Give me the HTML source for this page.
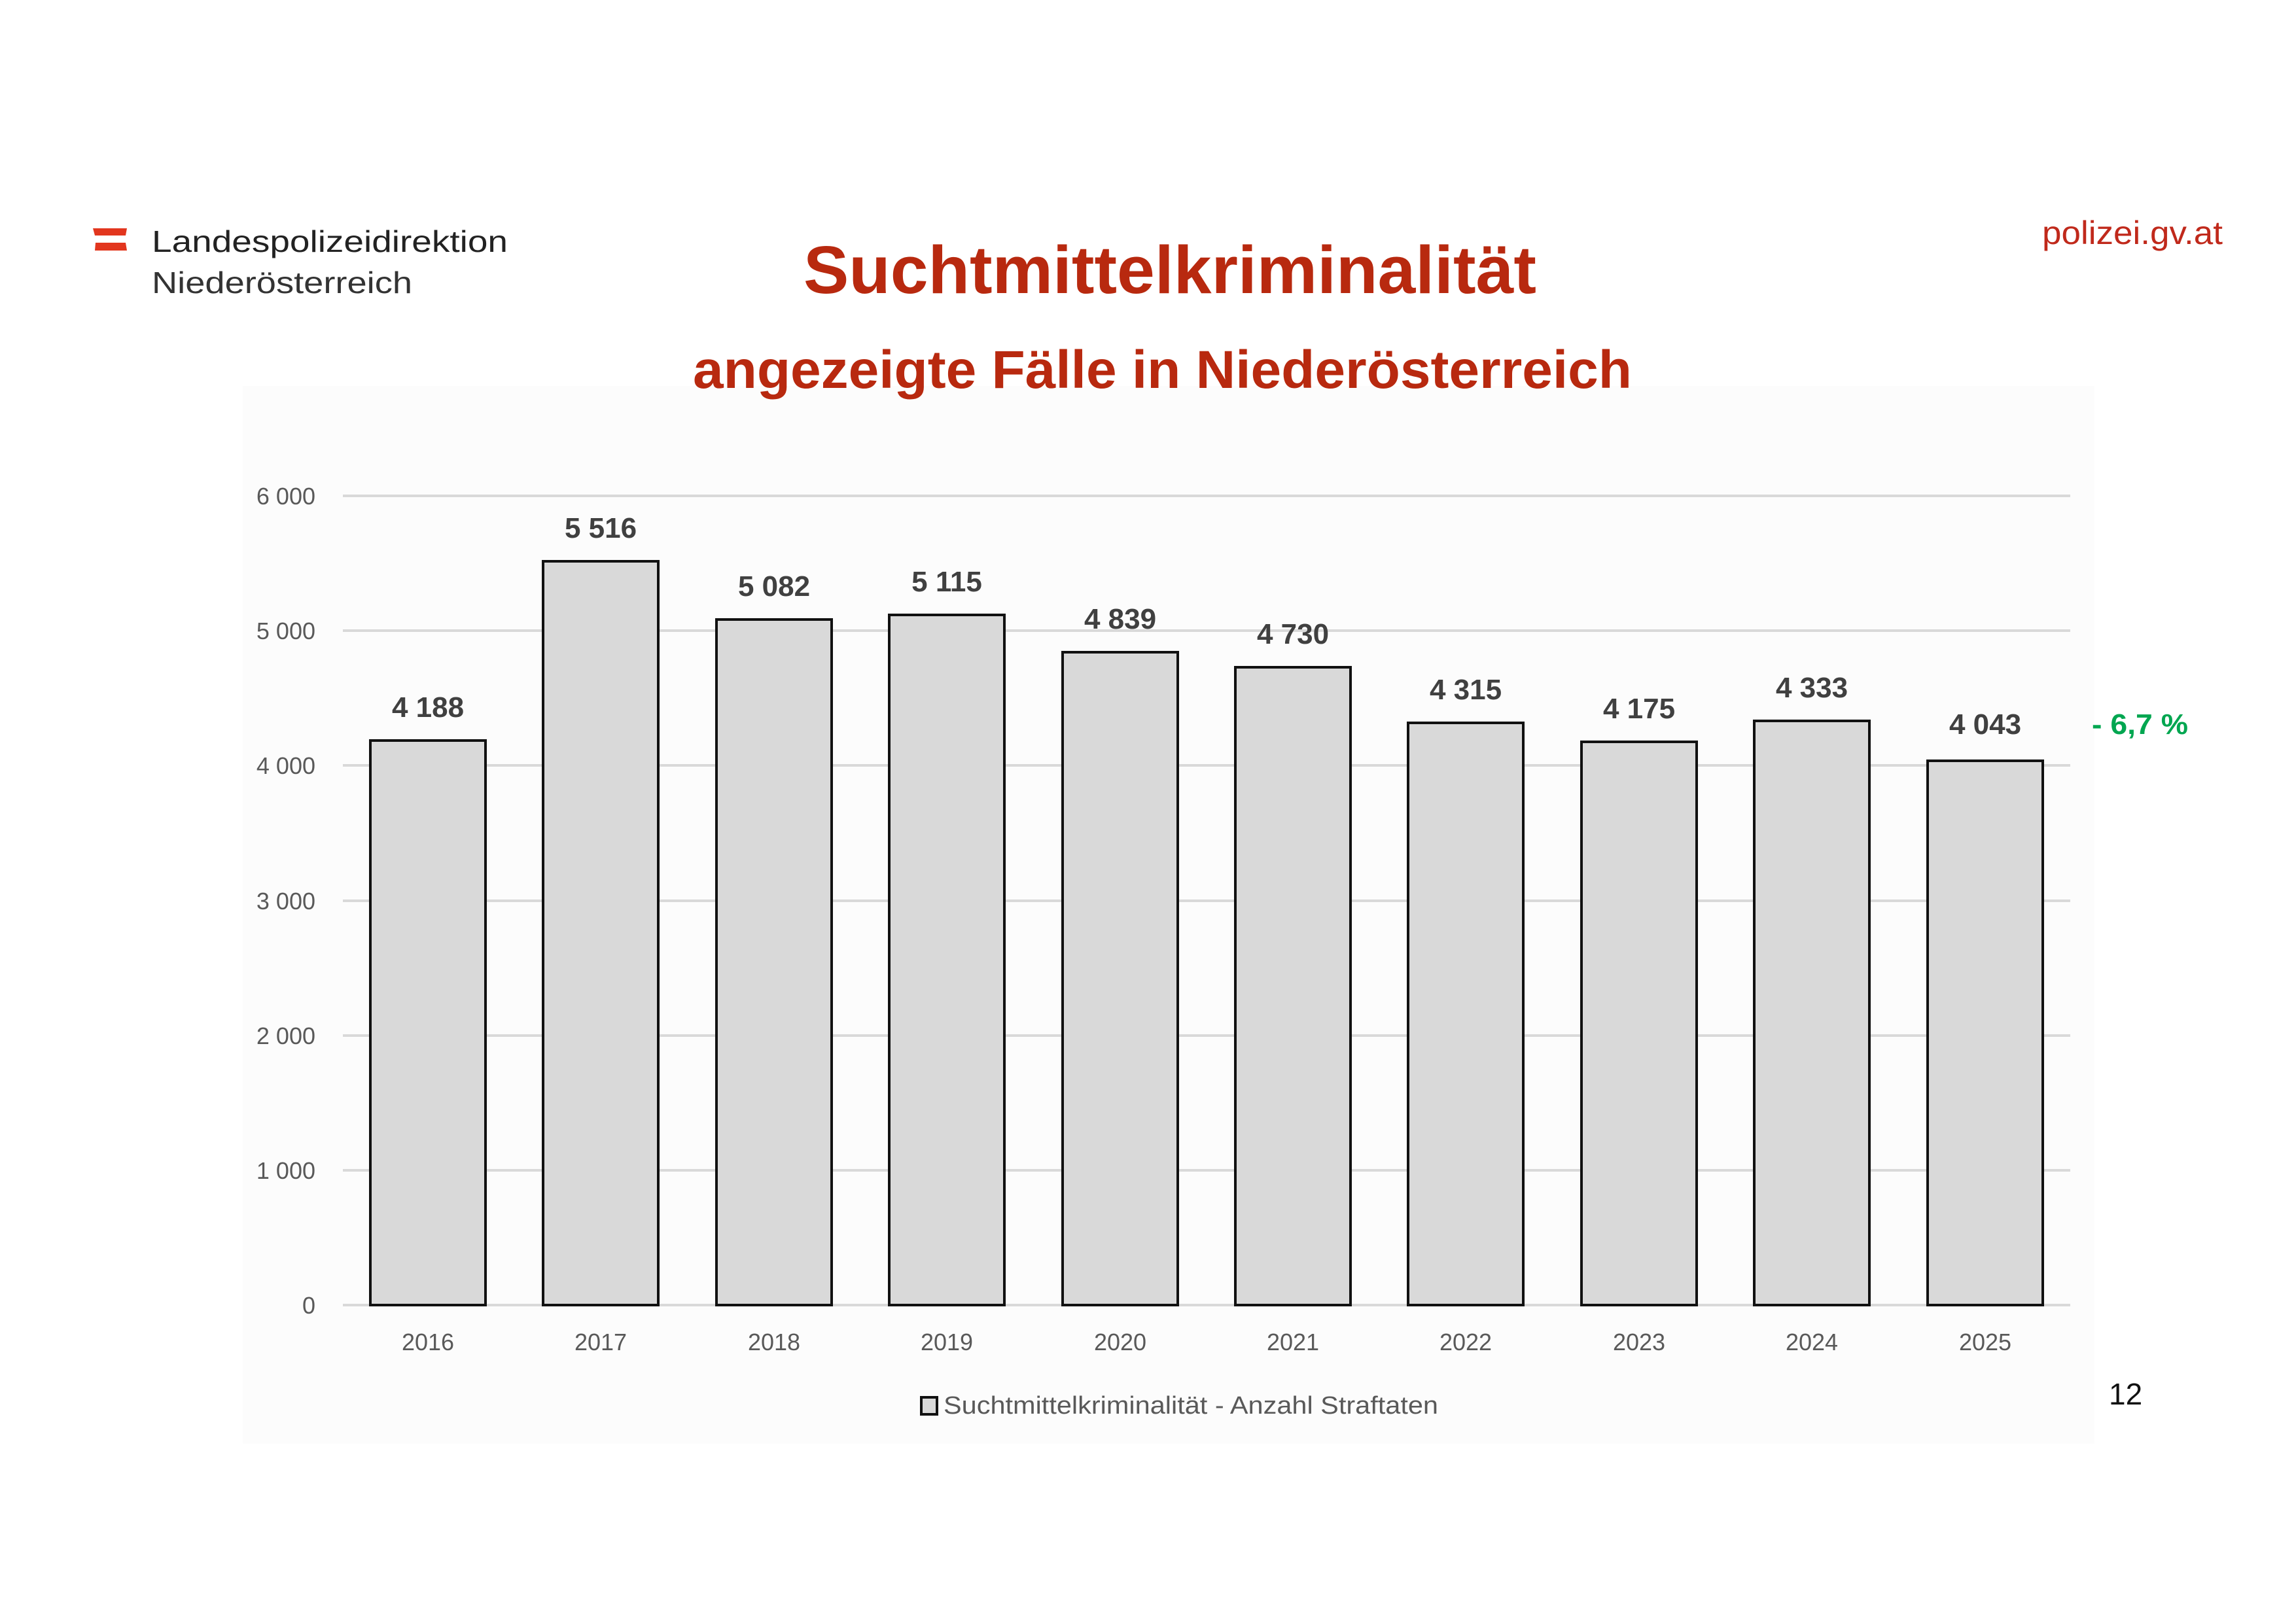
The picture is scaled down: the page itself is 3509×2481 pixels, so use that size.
<!DOCTYPE html>
<html><head><meta charset="utf-8"><style>
html,body{margin:0;padding:0;background:#fff;}
svg{display:block;}
</style></head><body>
<svg width="3509" height="2481" viewBox="0 0 3509 2481" xmlns="http://www.w3.org/2000/svg" font-family="Liberation Sans, sans-serif">
<rect width="3509" height="2481" fill="#fff"/>
<rect x="371" y="590" width="2830" height="1617" fill="#fcfcfc"/>
<polygon points="142,349 194,349 192,360 145,360" fill="#e2361e"/>
<polygon points="146,371 192,371 194,383 145,383" fill="#e2361e"/>
<text x="232" y="385" font-size="46" fill="#222" textLength="544" lengthAdjust="spacingAndGlyphs">Landespolizeidirektion</text>
<text x="232" y="448" font-size="46" fill="#333" textLength="398" lengthAdjust="spacingAndGlyphs">Niederösterreich</text>
<text x="3121" y="373" font-size="50" fill="#c0291b" textLength="276" lengthAdjust="spacingAndGlyphs">polizei.gv.at</text>
<text x="1228" y="448" font-size="103" font-weight="bold" fill="#b8290f" textLength="1120" lengthAdjust="spacingAndGlyphs">Suchtmittelkriminalität</text>
<text x="1059" y="593" font-size="82" font-weight="bold" fill="#b8290f" textLength="1435" lengthAdjust="spacingAndGlyphs">angezeigte Fälle in Niederösterreich</text>
<g stroke="#d9d9d9" stroke-width="4">
<line x1="524" y1="758" x2="3164" y2="758"/>
<line x1="524" y1="964" x2="3164" y2="964"/>
<line x1="524" y1="1170" x2="3164" y2="1170"/>
<line x1="524" y1="1377" x2="3164" y2="1377"/>
<line x1="524" y1="1583" x2="3164" y2="1583"/>
<line x1="524" y1="1789" x2="3164" y2="1789"/>
<line x1="524" y1="1995" x2="3164" y2="1995"/>
</g>
<g font-size="36" fill="#595959" text-anchor="end">
<text x="482" y="771">6 000</text>
<text x="482" y="977">5 000</text>
<text x="482" y="1183">4 000</text>
<text x="482" y="1390">3 000</text>
<text x="482" y="1596">2 000</text>
<text x="482" y="1802">1 000</text>
<text x="482" y="2008">0</text>
</g>
<g fill="#d9d9d9" stroke="#111" stroke-width="4">
<rect x="566" y="1132" width="176" height="863"/>
<rect x="830" y="858" width="176" height="1137"/>
<rect x="1095" y="947" width="176" height="1048"/>
<rect x="1359" y="940" width="176" height="1055"/>
<rect x="1624" y="997" width="176" height="998"/>
<rect x="1888" y="1020" width="176" height="975"/>
<rect x="2152" y="1105" width="176" height="890"/>
<rect x="2417" y="1134" width="176" height="861"/>
<rect x="2681" y="1102" width="176" height="893"/>
<rect x="2946" y="1163" width="176" height="832"/>
</g>
<g font-size="44" font-weight="bold" fill="#404040" text-anchor="middle">
<text x="654" y="1096">4 188</text>
<text x="918" y="822">5 516</text>
<text x="1183" y="911">5 082</text>
<text x="1447" y="904">5 115</text>
<text x="1712" y="961">4 839</text>
<text x="1976" y="984">4 730</text>
<text x="2240" y="1069">4 315</text>
<text x="2505" y="1098">4 175</text>
<text x="2769" y="1066">4 333</text>
<text x="3034" y="1122">4 043</text>
</g>
<g font-size="36" fill="#595959" text-anchor="middle">
<text x="654" y="2064">2016</text>
<text x="918" y="2064">2017</text>
<text x="1183" y="2064">2018</text>
<text x="1447" y="2064">2019</text>
<text x="1712" y="2064">2020</text>
<text x="1976" y="2064">2021</text>
<text x="2240" y="2064">2022</text>
<text x="2505" y="2064">2023</text>
<text x="2769" y="2064">2024</text>
<text x="3034" y="2064">2025</text>
</g>
<rect x="1408" y="2136" width="24" height="26" fill="#d9d9d9" stroke="#111" stroke-width="4"/>
<text x="1442" y="2161" font-size="38" fill="#595959" textLength="756" lengthAdjust="spacingAndGlyphs">Suchtmittelkriminalität - Anzahl Straftaten</text>
<text x="3197" y="1122" font-size="44" font-weight="bold" fill="#00a650" textLength="147" lengthAdjust="spacingAndGlyphs">- 6,7 %</text>
<text x="3223" y="2147" font-size="46" fill="#111">12</text>
</svg>
</body></html>
